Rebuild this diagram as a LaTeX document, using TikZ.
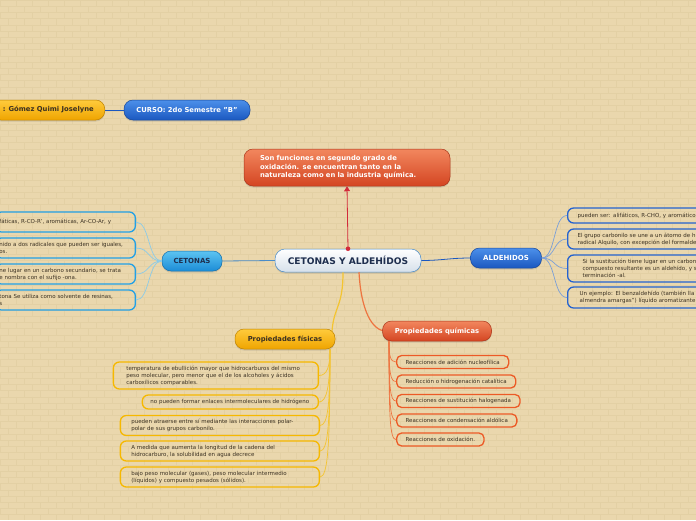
\documentclass[tikz,border=0pt]{standalone}
\usepackage{fontspec}
\setmainfont{DejaVu Sans}
\usetikzlibrary{arrows.meta,positioning,shadows}
\usepackage{xcolor}
\definecolor{MapPaper}{HTML}{EAD7AD}
\definecolor{MapBrick}{HTML}{E3D0A4}
\definecolor{MapInk}{HTML}{3B3122}
\definecolor{MapNavy}{HTML}{1E2E4E}
\definecolor{MapSky}{HTML}{4A8CC8}
\definecolor{MapMist}{HTML}{D6E0EA}
\definecolor{MapCyanTop}{HTML}{5CC4F2}
\definecolor{MapCyan}{HTML}{1C8CD6}
\definecolor{MapBlueTop}{HTML}{4C90EA}
\definecolor{MapBlue}{HTML}{1B58C0}
\definecolor{MapGoldTop}{HTML}{FFCB3C}
\definecolor{MapGold}{HTML}{EFA400}
\definecolor{MapRedTop}{HTML}{F2875E}
\definecolor{MapRed}{HTML}{D44522}
\definecolor{MapArrow}{HTML}{D22A3A}
\definecolor{KetEdge}{HTML}{22A0E6}
\definecolor{KetLine}{HTML}{8CCBE8}
\definecolor{AldEdge}{HTML}{2563D0}
\definecolor{AldLine}{HTML}{7A9FD8}
\definecolor{FisEdge}{HTML}{F6B800}
\definecolor{FisLine}{HTML}{F4C430}
\definecolor{QuiEdge}{HTML}{EC5A26}
\definecolor{QuiLine}{HTML}{EE7440}

\begin{document}
\begin{tikzpicture}[x=1pt,y=-1pt,every node/.style={font=\fontsize{5.5}{7}\selectfont,align=left,text=MapInk},
    topic/.style={rounded corners=9pt,inner xsep=10pt,inner ysep=0pt,line width=.5pt,font=\bfseries\fontsize{6.8}{8}\selectfont,drop shadow={opacity=.25,shadow xshift=0pt,shadow yshift=-1.5pt}},
    leaf/.style={draw=#1,line width=1.3pt,rounded corners=6pt,inner ysep=0pt},
    brick/.style={MapBrick,line width=.35pt}]
  \clip (0,0) rectangle (696,520);
  \fill[MapPaper] (0,0) rectangle (696,520);
  % brick wall
  \foreach \r in {0,...,84}{\draw[brick] (0,6.2*\r)--(696,6.2*\r);}
  \foreach \c in {0,...,43}{
    \draw[brick,dash pattern=on 6.2pt off 6.2pt] (16*\c,0)--(16*\c,520);
    \draw[brick,dash pattern=on 6.2pt off 6.2pt,dash phase=6.2pt] (16*\c+8,0)--(16*\c+8,520);
  }

  % header
  \node[topic,anchor=east,inner xsep=11pt,minimum height=20pt,top color=MapGoldTop,bottom color=MapGold,draw=MapGold!80!black,text=MapInk] (alumna) at (105,110) {: Gómez Quimi Joselyne};
  \node[topic,minimum width=126pt,minimum height=20pt,top color=MapBlueTop,bottom color=MapBlue,draw=MapBlue!80!black,text=white] (curso) at (187,110) {CURSO: 2do Semestre "B"};
  \draw[MapBlue,line width=.8pt] (alumna)--(curso);

  % centre
  \node[topic,minimum width=206pt,minimum height=37pt,inner xsep=16pt,text width=174pt,top color=MapRedTop,bottom color=MapRed,draw=MapRed!80!black,text=white,font=\bfseries\fontsize{6.8}{8.5}\selectfont] (idea) at (347,167.5) {Son funciones en segundo grado de\\oxidación. se encuentran tanto en la\\naturaleza como en la industria química.};
  \node[topic,rounded corners=10pt,minimum width=146pt,minimum height=23pt,top color=white,bottom color=MapMist,draw=MapSky,text=MapNavy,font=\bfseries\fontsize{9.1}{10}\selectfont] (root) at (348,260.5) {CETONAS Y ALDEHÍDOS};
  \draw[MapArrow,line width=.8pt,-{Triangle[length=5pt,width=6pt]}] (root.north)--(idea.south);
  \fill[MapArrow] (root.north) circle (2.3pt);

  % cetonas
  \node[topic,minimum width=60pt,minimum height=20pt,top color=MapCyanTop,bottom color=MapCyan,draw=MapCyan!80!black,text=MapNavy,font=\bfseries\fontsize{7}{8}\selectfont] (cet) at (192,261) {CETONAS};
  \draw[MapSky,line width=.8pt] (root.west)--(cet.east);
  \node[leaf=KetEdge,anchor=east,inner xsep=4pt,text width=132pt,minimum height=20pt] (k1) at (136,222) {fáticas, R-CO-R', aromáticas, Ar-CO-Ar, y};
  \node[leaf=KetEdge,anchor=east,inner xsep=4pt,text width=132pt,minimum height=20pt] (k2) at (136,248) {nido a dos radicales que pueden ser iguales,\\os.};
  \node[leaf=KetEdge,anchor=east,inner xsep=4pt,text width=132pt,minimum height=20pt] (k3) at (136,274) {ne lugar en un carbono secundario, se trata\\e nombra con el sufijo -ona.};
  \node[leaf=KetEdge,anchor=east,inner xsep=4pt,text width=132pt,minimum height=20pt] (k4) at (136,300) {tona Se utiliza como solvente de resinas,\\s};
  \foreach \k in {1,...,4}{\draw[KetLine,line width=.7pt] (cet.west) .. controls +(-14,0) and +(14,0) .. (k\k.east);}

  % aldehidos
  \node[topic,minimum width=71pt,minimum height=20pt,top color=MapBlueTop,bottom color=MapBlue,draw=MapBlue!80!black,text=white,font=\bfseries\fontsize{7}{8}\selectfont] (ald) at (506,258) {ALDEHIDOS};
  \draw[MapBlue,line width=.8pt] (root.east) .. controls +(20,0) and +(-20,0) .. (ald.west);
  \node[leaf=AldEdge,anchor=west,inner xsep=10pt,text width=160pt,minimum height=15pt] (a1) at (567,215.5) {pueden ser: alifáticos, R-CHO, y aromático};
  \node[leaf=AldEdge,anchor=west,inner xsep=10pt,text width=160pt,minimum height=20pt] (a2) at (567,239) {El grupo carbonilo se une a un átomo de h\\radical Alquilo, con excepción del formalde};
  \node[leaf=AldEdge,anchor=west,inner xsep=15pt,text width=160pt,minimum height=27pt] (a3) at (567,268.5) {Si la sustitución tiene lugar en un carbon\\compuesto resultante es un aldehído, y s\\terminación -al.};
  \node[leaf=AldEdge,anchor=west,inner xsep=12pt,text width=160pt,minimum height=21pt] (a4) at (567,297.5) {Un ejemplo: El benzaldehído (también lla\\almendra amargas") líquido aromatizante};
  \foreach \k in {1,...,4}{\draw[AldLine,line width=.7pt] (ald.east) .. controls +(14,0) and +(-14,0) .. (a\k.west);}

  % propiedades fisicas
  \coordinate (fhub) at ([xshift=-5pt]root.south);
  \draw[FisLine,line width=1.2pt] (fhub) .. controls +(0,35) and +(2,-25) .. (332,331);
  \node[topic,minimum width=100pt,minimum height=20pt,top color=MapGoldTop,bottom color=MapGold,draw=MapGold!80!black,text=MapInk] (fis) at (285,339) {Propiedades físicas};
  \coordinate (fisdown) at (330,349);
  \node[leaf=FisEdge,anchor=east,inner xsep=13pt,text width=179pt,minimum height=27pt] (p1) at (319,375.5) {temperatura de ebullición mayor que hidrocarburos del mismo\\peso molecular, pero menor que el de los alcoholes y ácidos\\carboxílicos comparables.};
  \node[leaf=FisEdge,anchor=east,inner xsep=8pt,text width=160pt,minimum height=14pt] (p2) at (319,402) {no pueden formar enlaces intermoleculares de hidrógeno};
  \node[leaf=FisEdge,anchor=east,inner xsep=11pt,text width=177pt,minimum height=20pt] (p3) at (320,425.5) {pueden atraerse entre sí mediante las interacciones polar-\\polar de sus grupos carbonilo.};
  \node[leaf=FisEdge,anchor=east,inner xsep=11pt,text width=177pt,minimum height=20pt] (p4) at (320,451) {A medida que aumenta la longitud de la cadena del\\hidrocarburo, la solubilidad en agua decrece};
  \node[leaf=FisEdge,anchor=east,inner xsep=11pt,text width=177pt,minimum height=20pt] (p5) at (320,477) {bajo peso molecular (gases), peso molecular intermedio\\(líquidos) y compuesto pesados (sólidos).};
  \foreach \k/\d in {1/18,2/36,3/55,4/75,5/95}{\draw[FisLine,line width=.7pt] (fisdown) .. controls +(0,\d) and +(8,0) .. (p\k.east);}

  % propiedades quimicas
  \coordinate (qhub) at ([xshift=11pt]root.south);
  \draw[QuiLine,line width=1.2pt] (qhub) .. controls +(2,38) and +(-14,0) .. (386,331);
  \node[topic,minimum width=109pt,minimum height=20pt,top color=MapRedTop,bottom color=MapRed,draw=MapRed!80!black,text=white] (qui) at (437,331) {Propiedades químicas};
  \coordinate (quidown) at (389,341);
  \node[leaf=QuiEdge,anchor=west,inner xsep=9pt,minimum height=13pt,rounded corners=5pt] (q1) at (396,362) {Reacciones de adición nucleofílica};
  \node[leaf=QuiEdge,anchor=west,inner xsep=9pt,minimum height=13pt,rounded corners=5pt] (q2) at (396,381.5) {Reducción o hidrogenación catalítica};
  \node[leaf=QuiEdge,anchor=west,inner xsep=9pt,minimum height=13pt,rounded corners=5pt] (q3) at (396,401) {Reacciones de sustitución halogenada};
  \node[leaf=QuiEdge,anchor=west,inner xsep=9pt,minimum height=13pt,rounded corners=5pt] (q4) at (396,420.5) {Reacciones de condensación aldólica};
  \node[leaf=QuiEdge,anchor=west,inner xsep=9pt,minimum height=13pt,rounded corners=5pt] (q5) at (396,439.5) {Reacciones de oxidación.};
  \foreach \k/\d in {1/14,2/30,3/46,4/62,5/78}{\draw[QuiLine,line width=.7pt] (quidown) .. controls +(0,\d) and +(-6,0) .. (q\k.west);}
\end{tikzpicture}
\end{document}
